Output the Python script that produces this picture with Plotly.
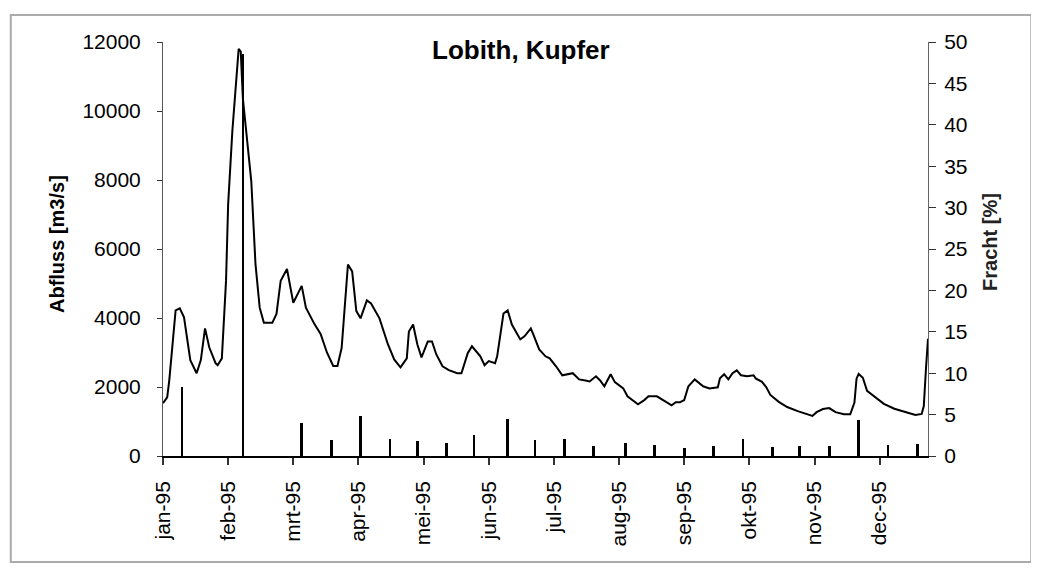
import plotly.graph_objects as go
import pandas as pd

# ---- data ----
flow_dates = [
    "1995-01-01", "1995-01-03", "1995-01-04", "1995-01-07", "1995-01-09", "1995-01-11",
    "1995-01-14", "1995-01-17", "1995-01-19", "1995-01-21", "1995-01-23", "1995-01-26",
    "1995-01-27", "1995-01-29", "1995-01-31", "1995-02-01", "1995-02-03", "1995-02-06",
    "1995-02-07", "1995-02-08", "1995-02-12", "1995-02-14", "1995-02-16", "1995-02-18",
    "1995-02-22", "1995-02-24", "1995-02-26", "1995-03-01", "1995-03-04", "1995-03-08",
    "1995-03-10", "1995-03-14", "1995-03-17", "1995-03-20", "1995-03-23", "1995-03-25",
    "1995-03-27", "1995-03-29", "1995-03-30", "1995-04-01", "1995-04-03", "1995-04-05",
    "1995-04-08", "1995-04-10", "1995-04-14", "1995-04-18", "1995-04-21", "1995-04-24",
    "1995-04-27", "1995-04-28", "1995-04-30", "1995-05-02", "1995-05-04", "1995-05-07",
    "1995-05-09", "1995-05-11", "1995-05-14", "1995-05-17", "1995-05-21", "1995-05-23",
    "1995-05-26", "1995-05-28", "1995-06-01", "1995-06-03", "1995-06-05", "1995-06-08",
    "1995-06-09", "1995-06-12", "1995-06-14", "1995-06-16", "1995-06-20", "1995-06-22",
    "1995-06-25", "1995-06-26", "1995-06-29", "1995-07-02", "1995-07-04", "1995-07-07",
    "1995-07-10", "1995-07-15", "1995-07-18", "1995-07-21", "1995-07-23", "1995-07-26",
    "1995-07-28", "1995-07-30", "1995-08-02", "1995-08-04", "1995-08-08", "1995-08-10",
    "1995-08-13", "1995-08-15", "1995-08-18", "1995-08-20", "1995-08-24", "1995-08-27",
    "1995-08-29", "1995-08-31", "1995-09-02", "1995-09-04", "1995-09-06", "1995-09-08",
    "1995-09-11", "1995-09-13", "1995-09-15", "1995-09-18", "1995-09-22", "1995-09-23",
    "1995-09-25", "1995-09-27", "1995-09-29", "1995-10-01", "1995-10-03", "1995-10-06",
    "1995-10-09", "1995-10-10", "1995-10-13", "1995-10-15", "1995-10-17", "1995-10-21",
    "1995-10-25", "1995-10-30", "1995-11-04", "1995-11-06", "1995-11-08", "1995-11-11",
    "1995-11-14", "1995-11-17", "1995-11-21", "1995-11-24", "1995-11-26", "1995-11-27",
    "1995-11-28", "1995-11-30", "1995-12-02", "1995-12-06", "1995-12-10", "1995-12-15",
    "1995-12-20", "1995-12-25", "1995-12-28", "1995-12-29", "1995-12-30", "1995-12-31",
]
flow_values = [
    1530, 1700, 2200, 4220, 4280, 4020,
    2780, 2400, 2780, 3700, 3150, 2690,
    2630, 2830, 5090, 7300, 9420, 11800,
    11720, 10370, 7970, 5570, 4300, 3860,
    3860, 4120, 5080, 5420, 4440, 4930,
    4300, 3830, 3540, 3000, 2610, 2610,
    3130, 4900, 5550, 5350, 4200, 3990,
    4510, 4420, 3990, 3240, 2800, 2570,
    2830, 3610, 3810, 3240, 2860, 3320,
    3320, 2950, 2600, 2490, 2400, 2400,
    2980, 3180, 2890, 2630, 2750, 2690,
    2890, 4130, 4220, 3810, 3380, 3470,
    3700, 3555, 3090, 2890, 2830, 2600,
    2340, 2400, 2220, 2190, 2160, 2310,
    2190, 2020, 2370, 2140, 1960, 1730,
    1590, 1500, 1620, 1730, 1730, 1620,
    1530, 1470, 1560, 1560, 1620, 2020,
    2220, 2110, 2020, 1960, 1990, 2250,
    2370, 2220, 2400, 2480, 2340, 2310,
    2340, 2250, 2150, 2000, 1770, 1570,
    1420, 1300, 1190, 1160, 1270, 1360,
    1390, 1270, 1210, 1210, 1550, 2240,
    2380, 2270, 1890, 1690, 1510, 1370,
    1280, 1190, 1220, 1450, 2500, 3400,
]

load_dates = [
    "1995-01-10", "1995-02-08", "1995-03-08", "1995-03-22", "1995-04-05", "1995-04-19",
    "1995-05-02", "1995-05-16", "1995-05-29", "1995-06-14", "1995-06-27", "1995-07-11",
    "1995-07-25", "1995-08-09", "1995-08-23", "1995-09-06", "1995-09-20", "1995-10-04",
    "1995-10-18", "1995-10-31", "1995-11-14", "1995-11-28", "1995-12-12", "1995-12-26",
]
load_values = [
    8.3, 48.5, 4.0, 1.9, 4.8, 2.1,
    1.8, 1.6, 2.5, 4.5, 1.9, 2.1,
    1.2, 1.6, 1.3, 1.0, 1.2, 2.1,
    1.1, 1.2, 1.2, 4.3, 1.3, 1.5,
]

month_labels = ["jan-95", "feb-95", "mrt-95", "apr-95", "mei-95", "jun-95",
                "jul-95", "aug-95", "sep-95", "okt-95", "nov-95", "dec-95"]
left_ticks = [0, 2000, 4000, 6000, 8000, 10000, 12000]
right_ticks = [0, 5, 10, 15, 20, 25, 30, 35, 40, 45, 50]

# category-style ticks every 31 days (as in the original spreadsheet chart)
tick_dates = list(pd.date_range("1995-01-01", periods=len(month_labels), freq="31D"))

FONT = "Arial, Liberation Sans, sans-serif"

fig = go.Figure()
fig.add_trace(go.Scatter(
    x=flow_dates, y=flow_values, mode="lines",
    line=dict(color="black", width=2), name="Abfluss", yaxis="y",
))
fig.add_trace(go.Bar(
    x=load_dates, y=load_values, yaxis="y2", name="Fracht",
    marker=dict(color="black", line=dict(width=0)),
    width=1.3 * 86400000,
))

fig.update_layout(
    width=1031, height=561,
    margin=dict(l=155, r=111, t=34, b=113),
    paper_bgcolor="white", plot_bgcolor="white",
    showlegend=False,
    font=dict(family=FONT, size=20, color="black"),
    xaxis=dict(
        type="date", range=["1995-01-01", "1995-12-31"],
        tickmode="array", tickvals=tick_dates, ticktext=month_labels,
        tickangle=-90, ticks="outside", ticklen=7, tickcolor="#333", tickwidth=1.5,
        showline=True, linecolor="black", linewidth=1.5,
        showgrid=False, zeroline=False, ticklabelstandoff=8,
        tickfont=dict(size=21),
    ),
    yaxis=dict(
        range=[0, 12000], tickvals=left_ticks, tickformat="d",
        ticks="outside", ticklen=5,
        tickcolor="#333", showline=True, linecolor="#555", linewidth=1,
        showgrid=False, zeroline=False, ticklabelstandoff=12,
        tickfont=dict(size=21),
    ),
    yaxis2=dict(
        range=[0, 50], tickvals=right_ticks, overlaying="y", side="right",
        anchor="x", ticks="outside", ticklen=7, tickcolor="#333",
        showline=True, linecolor="#666", linewidth=1,
        showgrid=False, zeroline=False, ticklabelstandoff=4,
        tickfont=dict(size=21),
    ),
    yaxis3=dict(
        range=[0, 12000], tickvals=left_ticks, overlaying="y", side="left",
        anchor="x", ticks="inside", ticklen=5, tickcolor="#333",
        showticklabels=False, showline=False, showgrid=False, zeroline=False,
    ),
    yaxis4=dict(
        range=[0, 50], tickvals=right_ticks, overlaying="y", side="right",
        anchor="x", ticks="inside", ticklen=7, tickcolor="#333",
        showticklabels=False, showline=False, showgrid=False, zeroline=False,
    ),
    bargap=0,
)

fig.add_annotation(
    text="<b>Lobith, Kupfer</b>", xref="paper", yref="paper",
    x=0.468, y=0.98, xanchor="center", yanchor="middle", showarrow=False,
    font=dict(size=26, family=FONT, color="black"),
)
fig.add_annotation(
    text="<b>Abfluss [m3/s]</b>", xref="paper", yref="paper",
    x=-0.1386, y=0.512, xanchor="center", yanchor="middle", showarrow=False,
    textangle=-90, font=dict(size=20, family=FONT, color="black"),
)
fig.add_annotation(
    text="<b>Fracht [%]</b>", xref="paper", yref="paper",
    x=1.081, y=0.517, xanchor="center", yanchor="middle", showarrow=False,
    textangle=-90, font=dict(size=20, family=FONT, color="#222"),
)

# outer chart frame
fig.add_shape(
    type="rect", xref="paper", yref="paper",
    x0=-0.199, x1=1.135, y0=-0.256, y1=1.065,
    line=dict(color="#aaaaaa", width=2), fillcolor="rgba(0,0,0,0)", layer="below",
)

fig.write_html("out.html")
